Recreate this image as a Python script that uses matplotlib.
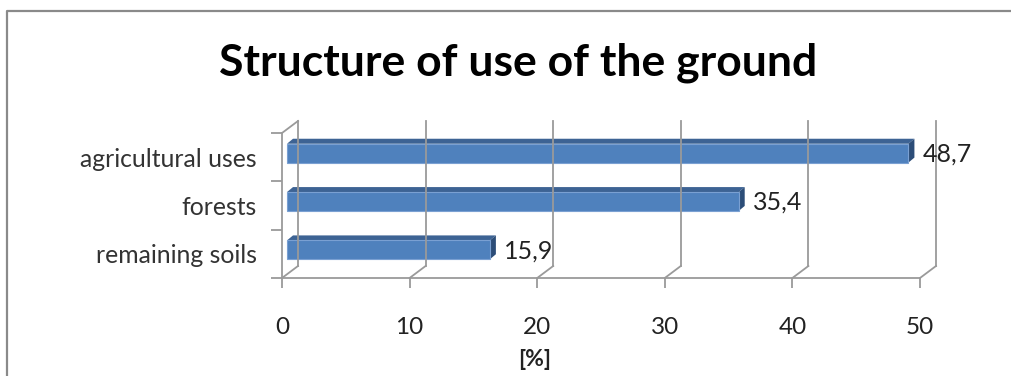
import matplotlib.pyplot as plt
from matplotlib.patches import Polygon, Rectangle
from matplotlib.lines import Line2D

# land use shares, bottom to top
categories = ['remaining soils', 'forests', 'agricultural uses']
shares = [15.9, 35.4, 48.7]
share_labels = ['15,9', '35,4', '48,7']
x_ticks = [0, 10, 20, 30, 40, 50]

plt.rcParams['font.family'] = ['Lato', 'DejaVu Sans']

fig = plt.figure(figsize=(10.11, 3.76), dpi=100)
W, H = 1011, 376
ax = fig.add_axes([282 / W, (H - 278) / H, (920 - 282) / W, (278 - 133) / H])
ax.set_xlim(0, 50)
ax.set_ylim(0, 3)
ax.patch.set_visible(False)
for s in ax.spines.values():
    s.set_visible(False)

# pixel -> data conversion for the fake 3d depth
px_x = (ax.transData.transform((1, 0)) - ax.transData.transform((0, 0)))[0]
px_y = (ax.transData.transform((0, 1)) - ax.transData.transform((0, 0)))[1]
def dx(p):
    return p / px_x
def dy(p):
    return p / px_y

grid_col = '#9a9a9a'
depth_x, depth_y = dx(16), dy(12)

# back wall gridlines and floor diagonals
for t in x_ticks:
    ax.plot([t + depth_x, t + depth_x], [depth_y, 3 + depth_y], color=grid_col, lw=1.3, clip_on=False)
    ax.plot([t, t + depth_x], [0, depth_y], color=grid_col, lw=1.3, clip_on=False)
# front floor edge and left wall
ax.plot([0, 50], [0, 0], color=grid_col, lw=1.3, clip_on=False)
ax.plot([0, 0], [0, 3], color=grid_col, lw=1.3, clip_on=False)
ax.plot([0, depth_x], [3, 3 + depth_y], color=grid_col, lw=1.3, clip_on=False)

# 3d bars
bar_h = 0.39
fx, fy = dx(5), dy(4)
bx, by = dx(11), dy(9)
for i, v in enumerate(shares):
    c = i + 0.5
    lo, hi = c - bar_h / 2 + fy, c + bar_h / 2 + fy
    top = Polygon([(fx, hi), (v + fx, hi), (v + bx, hi + by - fy), (bx, hi + by - fy)],
                  closed=True, facecolor='#3d6394', edgecolor='none', clip_on=False)
    side = Polygon([(v + fx, lo), (v + fx, hi), (v + bx, hi + by - fy), (v + bx, lo + by - fy)],
                   closed=True, facecolor='#2c4d78', edgecolor='none', clip_on=False)
    front = Rectangle((fx, lo), v, hi - lo, facecolor='#4f81bd', edgecolor='#7aa0d2',
                      lw=0.8, clip_on=False)
    ax.add_patch(top)
    ax.add_patch(side)
    ax.add_patch(front)
    ax.annotate(share_labels[i], xy=(v, c), xytext=(19, 3), textcoords='offset pixels',
                ha='left', va='center', fontsize=18, color='#222222')

# x axis ticks below the floor
ax.set_xticks(x_ticks)
ax.set_xticklabels([str(t) for t in x_ticks])
ax.tick_params(axis='x', length=7, width=1.3, color=grid_col, pad=21,
               labelsize=17.5, labelcolor='#222222')

# category labels in the middle, tick marks on the boundaries
ax.set_yticks([0.5, 1.5, 2.5])
ax.set_yticklabels(categories)
ax.set_yticks([0, 1, 2, 3], minor=True)
ax.tick_params(axis='y', which='major', length=0, pad=18, labelsize=17.8, labelcolor='#333333')
ax.tick_params(axis='y', which='minor', length=8, width=1.3, color=grid_col)

fig.text(518 / W, 1 - 63 / H, 'Structure of use of the ground', ha='center', va='center',
         fontsize=32, fontweight='bold', color='black')
fig.text(535 / W, 1 - 360 / H, '[%]', ha='center', va='center', fontsize=16.5,
         fontweight='bold', color='#222222')

# chart frame (top and left edges visible)
fig.add_artist(Line2D([7 / W, 7 / W, 1], [0, 1 - 11 / H, 1 - 11 / H],
                      transform=fig.transFigure, color='#8a8a8a', lw=1.6))

fig.savefig('out.png', dpi=100)
